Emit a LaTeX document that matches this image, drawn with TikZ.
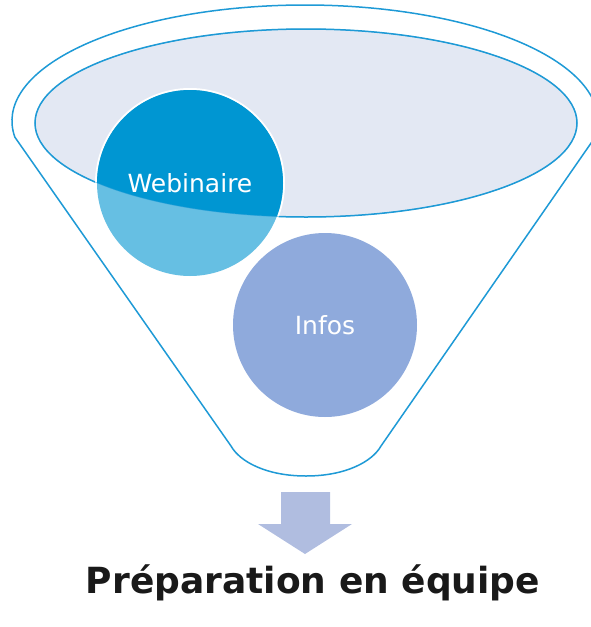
\documentclass[tikz,border=0pt]{standalone}
\usepackage{fontspec}
\setmainfont{DejaVu Sans}
\definecolor{lineblue}{HTML}{1E9AD6}
\definecolor{lav}{HTML}{E3E8F3}
\definecolor{webdark}{HTML}{0096D2}
\definecolor{weblight}{HTML}{66BFE3}
\definecolor{infofill}{HTML}{8FAADC}
\definecolor{arrowfill}{HTML}{B0BDE0}
\tikzset{
  funnelline/.style={draw=lineblue, line width=1.5pt},
  bubble/.style={circle, minimum size=186pt, inner sep=0pt, text=white, font=\fontsize{25}{30}\selectfont},
}
\begin{document}
\begin{tikzpicture}[x=1pt,y=-1pt]
\useasboundingbox (0,0) rectangle (591,627);
% outer funnel
\draw[funnelline, fill=white] (305,121) ++(172:293 and 116) arc[start angle=172, end angle=368, x radius=293, y radius=116]
  -- (381,446) .. controls (372,462) and (345,476) .. (306,476)
  .. controls (267,476) and (240,462) .. (231,446) -- cycle;
% inner ellipse
\draw[funnelline, fill=lav] (306,123) ellipse[x radius=271, y radius=94];
% webinaire circle
\fill[white] (190,183) circle[radius=95];
\fill[weblight] (190,183) circle[radius=93];
\begin{scope}
  \clip (306,123) ellipse[x radius=271, y radius=94];
  \fill[webdark] (190,183) circle[radius=93];
\end{scope}
\draw[lineblue, line width=0.8pt, opacity=0.5] (306,123) ellipse[x radius=271, y radius=94];
\node[bubble] (web) at (190,183) {Webinaire};
% infos circle
\node[bubble, fill=infofill, minimum size=184pt] (infos) at (325,325) {Infos};
% arrow
\fill[arrowfill] (281,492) -- (330,492) -- (330,524) -- (352,524) -- (305,554) -- (258,524) -- (281,524) -- cycle;
\node[font=\bfseries\fontsize{36}{40}\selectfont, text=black!90, anchor=base] (title) at (313,593) {Préparation en équipe};
\end{tikzpicture}
\end{document}
